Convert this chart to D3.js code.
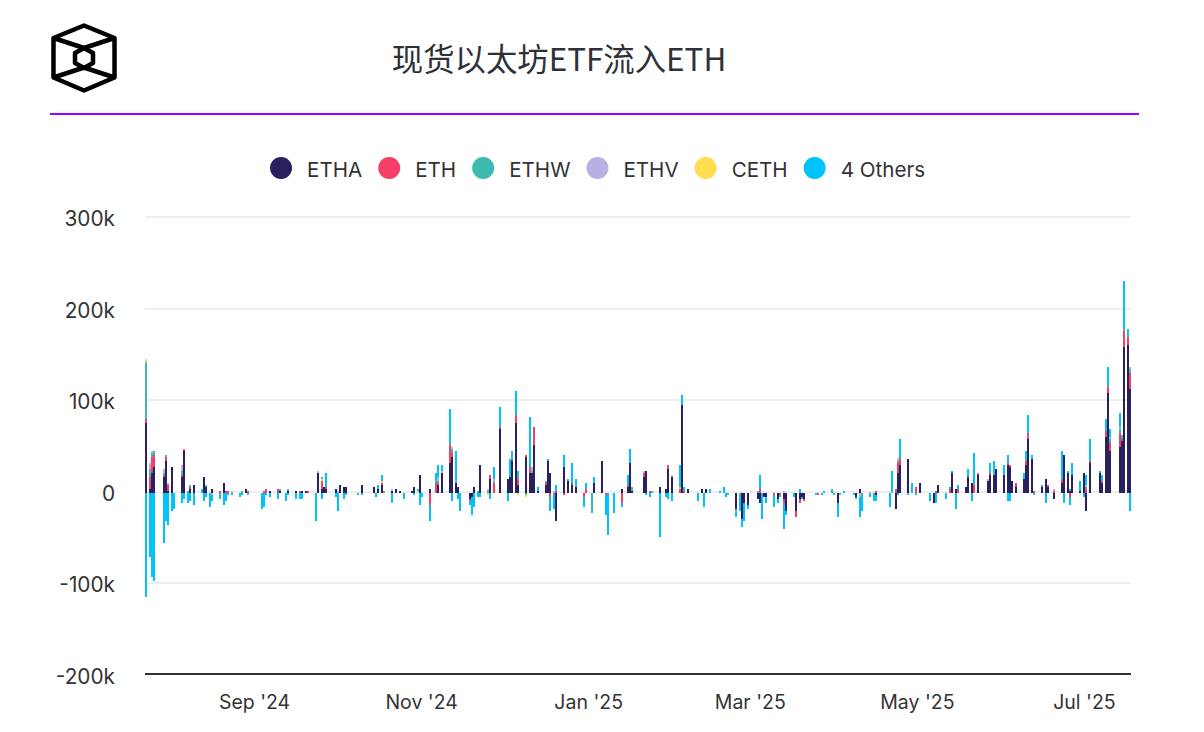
<!DOCTYPE html>
<html>
<head>
<meta charset="utf-8">
<script src="https://cdn.jsdelivr.net/npm/d3@7"></script>
<style>
  body { margin: 0; background: #fff; }
  text { font-family: Inter, sans-serif; fill: #333; }
</style>
</head>
<body>
<div id="chart"></div>
<script>
// thousand ETH per column, [column, value]. the source chart has 493 columns, weekends stay empty
const columnCount = 493;
const yTicks = [-200, -100, 0, 100, 200, 300];
const xTicks = ["2024-09-01", "2024-11-01", "2025-01-01", "2025-03-01", "2025-05-01", "2025-07-01"];
const dateRange = ["2024-07-23", "2025-07-18"];
const legendNames = ["ETHA", "ETH", "ETHW", "ETHV", "CETH", "4 Others"];
const legendColors = ["#2a205e", "#f43f66", "#3cbcb1", "#b8b0e2", "#ffdd4f", "#00c4f9"];

const etha = [[0,76.4],[2,4.4],[3,21.8],[4,28.4],[9,17.5],[10,34.9],[11,2.2],[13,28.4],[18,17.5],[19,45.8],[22,4.4],[24,8.7],[29,17.5],[30,6.5],[33,4.4],[39,10.9],[50,4.4],[62,2.2],[67,2.2],[71,2.2],[75,2.2],[78,2.2],[80,2.2],[86,21.8],[88,4.4],[89,6.5],[90,4.4],[95,4.4],[97,8.7],[99,6.5],[100,6.5],[108,8.7],[114,6.5],[116,4.4],[118,8.7],[123,2.2],[125,4.4],[127,2.2],[133,2.2],[134,6.5],[137,19.6],[142,4.4],[146,8.7],[148,21.8],[152,32.7],[153,39.3],[155,10.9],[156,6.5],[162,-6.5],[163,-4.4],[164,6.5],[167,30.6],[172,15.3],[177,69.8],[181,15.3],[182,17.5],[183,34.9],[185,76.4],[186,8.7],[190,39.3],[192,21.8],[193,21.8],[194,52.4],[196,2.2],[200,8.7],[201,34.9],[202,21.8],[205,-30.6],[209,28.4],[211,13.1],[213,8.7],[215,6.5],[224,10.9],[228,34.9],[238,4.4],[241,6.5],[242,32.7],[243,2.2],[249,17.5],[250,24],[257,6.5],[260,4.4],[261,26.2],[263,17.5],[268,96],[271,4.4],[278,4.4],[280,4.4],[295,-17.5],[298,-28.4],[299,-10.9],[301,-13.1],[306,-6.5],[307,-10.9],[309,-4.4],[310,-4.4],[316,-6.5],[319,-6.5],[320,-19.6],[325,-19.6],[327,-6.5],[328,-4.4],[329,-6.5],[346,-10.9],[355,-4.4],[357,4.4],[365,-2.2],[375,-17.5],[376,21.8],[377,30.6],[381,37.1],[387,10.9],[394,-10.9],[396,8.7],[403,21.8],[405,4.4],[410,6.5],[411,17.5],[413,10.9],[416,19.6],[421,13.1],[422,19.6],[424,19.6],[425,26.2],[429,19.6],[431,30.6],[432,28.4],[433,13.1],[435,6.5],[439,15.3],[440,30.6],[441,58.9],[443,37.1],[448,6.5],[450,15.3],[451,6.5],[454,-6.5],[458,10.9],[459,41.5],[461,21.8],[462,2.2],[463,19.6],[467,2.2],[469,21.8],[470,-19.6],[472,32.7],[477,21.8],[478,10.9],[480,61.1],[481,109.2],[482,45.8],[487,50.2],[488,56.8],[489,159.4],[491,161.6],[492,113.5]];
const eth = [[0,4.4],[2,13.1],[3,17.5],[4,13.1],[9,2.2],[10,4.4],[11,6.5],[18,2.2],[19,2.2],[22,2.2],[37,2.2],[40,2.2],[41,2.2],[51,2.2],[59,2.2],[60,4.4],[66,4.4],[77,2.2],[81,2.2],[88,8.7],[90,2.2],[118,2.2],[142,-13.1],[145,10.9],[146,2.2],[152,19.6],[153,4.4],[162,-2.2],[172,4.4],[174,10.9],[177,2.2],[183,2.2],[185,8.7],[186,6.5],[190,2.2],[192,6.5],[194,19.6],[200,2.2],[202,-4.4],[205,2.2],[209,-2.2],[213,2.2],[219,-4.4],[220,4.4],[230,-2.2],[238,-10.9],[241,2.2],[249,4.4],[252,2.2],[261,4.4],[267,4.4],[269,2.2],[307,4.4],[314,-2.2],[317,-2.2],[319,-4.4],[325,-6.5],[327,-4.4],[329,-2.2],[336,-2.2],[365,2.2],[375,4.4],[376,10.9],[377,6.5],[385,6.5],[395,2.2],[402,4.4],[406,4.4],[414,8.7],[416,2.2],[422,2.2],[431,2.2],[432,2.2],[435,4.4],[440,4.4],[441,6.5],[444,2.2],[451,2.2],[454,2.2],[458,4.4],[462,-4.4],[470,4.4],[472,2.2],[478,2.2],[480,6.5],[481,6.5],[482,8.7],[487,15.3],[488,2.2],[489,17.5],[491,8.7],[492,17.5]];
const ethw = [[0,61.1],[2,8.7],[3,4.4],[4,4.4],[9,2.2],[10,2.2],[18,4.4],[21,2.2],[22,2.2],[30,2.2],[48,2.2],[71,2.2],[106,-2.2],[108,-2.2],[119,2.2],[145,2.2],[146,2.2],[152,4.4],[153,4.4],[155,4.4],[166,2.2],[171,2.2],[174,2.2],[186,4.4],[190,-2.2],[193,2.2],[200,2.2],[211,2.2],[223,-21.8],[243,4.4],[253,2.2],[291,-2.2],[295,-4.4],[297,-4.4],[306,2.2],[344,-2.2],[347,-2.2],[358,-4.4],[373,2.2],[376,2.2],[381,-2.2],[414,2.2],[424,2.2],[440,2.2],[461,2.2],[462,2.2],[470,2.2],[481,2.2],[482,4.4],[487,4.4],[489,4.4],[492,4.4]];
const ethv = [[0,2.2],[2,6.5],[3,2.2],[9,4.4],[11,2.2],[18,6.5],[33,-2.2],[43,2.2],[86,2.2],[96,2.2],[123,2.2],[146,4.4],[148,2.2],[153,2.2],[171,2.2],[174,2.2],[193,4.4],[204,2.2],[249,2.2],[263,2.2],[319,2.2],[357,-4.4],[376,2.2],[421,2.2],[454,2.2],[470,2.2],[482,2.2],[487,2.2],[492,2.2]];
const ceth = [[0,2.2],[88,2.2],[118,2.2],[136,2.2],[171,-2.2],[186,-2.2],[190,-2.2],[267,2.2],[344,2.2],[362,2.2],[376,2.2]];
// 4 Others is several funds in one colour, so a column can have both inflow and outflow
const othersIn = [[28,4.4],[67,2.2],[88,2.2],[90,15.3],[116,4.4],[118,6.5],[136,2.2],[145,8.7],[146,13.1],[148,6.5],[152,34.9],[155,30.6],[174,13.1],[177,21.8],[182,19.6],[183,8.7],[185,26.2],[186,4.4],[192,54.6],[196,4.4],[201,2.2],[205,6.5],[209,13.1],[213,21.8],[215,8.7],[220,6.5],[224,6.5],[241,10.9],[242,15.3],[267,24],[268,10.9],[269,4.4],[282,4.4],[287,2.2],[289,6.5],[307,15.3],[327,4.4],[339,2.2],[343,4.4],[349,2.2],[373,21.8],[377,21.8],[383,10.9],[402,2.2],[403,2.2],[406,4.4],[411,8.7],[414,32.7],[422,10.9],[424,13.1],[429,10.9],[431,8.7],[439,6.5],[440,8.7],[441,19.6],[443,4.4],[448,2.2],[458,30.6],[463,13.1],[467,10.9],[470,10.9],[472,24],[477,2.2],[478,6.5],[480,13.1],[481,19.6],[482,8.7],[487,15.3],[488,4.4],[489,50.2],[491,8.7]];
const othersOut = [[0,-113.5],[2,-69.8],[3,-91.7],[4,-96],[9,-54.6],[10,-30.6],[11,-34.9],[13,-19.6],[14,-17.5],[18,-10.9],[19,-6.5],[21,-10.9],[22,-8.7],[24,-13.1],[29,-8.7],[30,-4.4],[32,-15.3],[33,-6.5],[37,-6.5],[39,-13.1],[40,-8.7],[41,-2.2],[43,-2.2],[47,-4.4],[48,-2.2],[51,-2.2],[58,-17.5],[59,-15.3],[60,-2.2],[62,-4.4],[66,-6.5],[70,-8.7],[71,-2.2],[75,-6.5],[77,-6.5],[78,-6.5],[85,-30.6],[88,-6.5],[95,-4.4],[96,-19.6],[99,-6.5],[100,-2.2],[115,-4.4],[123,-10.9],[129,-6.5],[134,-2.2],[137,-13.1],[138,-4.4],[142,-17.5],[153,-8.7],[156,-6.5],[157,-19.6],[162,-4.4],[163,-19.6],[164,-15.3],[166,-4.4],[167,-4.4],[172,-6.5],[181,-8.7],[202,-15.3],[204,-17.5],[219,-10.9],[230,-21.8],[231,-45.8],[234,-21.8],[238,-4.4],[250,-2.2],[252,-4.4],[257,-48],[260,-4.4],[261,-6.5],[263,-8.7],[276,-8.7],[279,-15.3],[290,-4.4],[295,-4.4],[297,-15.3],[298,-8.7],[299,-19.6],[301,-4.4],[308,-28.4],[310,-6.5],[314,-13.1],[316,-4.4],[317,-2.2],[319,-28.4],[320,-4.4],[324,-4.4],[328,-2.2],[335,-2.2],[338,-2.2],[346,-15.3],[354,-2.2],[355,-2.2],[357,-21.8],[358,-15.3],[362,-4.4],[364,-8.7],[365,-6.5],[372,-15.3],[376,-2.2],[385,-2.2],[392,-8.7],[395,-10.9],[400,-6.5],[405,-17.5],[413,-8.7],[431,-8.7],[432,-8.7],[444,-2.2],[450,-10.9],[459,-10.9],[462,-8.7],[469,-4.4],[492,-19.6]];

var width = 1204, height = 732;
var plot = { left: 145, right: 1131, top: 217, bottom: 675 };

var svg = d3.select("#chart").append("svg")
  .attr("width", width)
  .attr("height", height)
  .style("display", "block");

// header
var logo = svg.append("g")
  .attr("fill", "none")
  .attr("stroke", "#000")
  .attr("stroke-width", 4.5)
  .attr("stroke-linejoin", "round");
logo.append("path").attr("d", "M84 25.5L114.5 38V77.5L84 90.5L53.5 77.5V38Z");
logo.append("path").attr("d", "M53.5 38L84 48L114.5 38M53.5 77.5L84 67.5L114.5 77.5");
logo.append("path").attr("d", "M84 48L93 53V63L84 68L75 63V53Z");

svg.append("text")
  .attr("x", 559)
  .attr("y", 70.5)
  .attr("text-anchor", "middle")
  .style("font-family", "'Noto Sans CJK SC'")
  .style("font-size", "31.4px")
  .style("fill", "#2e3238")
  .text("现货以太坊ETF流入ETH");

svg.append("line")
  .attr("x1", 50).attr("x2", 1139)
  .attr("y1", 114).attr("y2", 114)
  .attr("stroke", "#a100ff")
  .attr("stroke-width", 2);

// legend, flows from the left like the original
var legendX = 270;
legendNames.forEach(function (name, i) {
  svg.append("circle")
    .attr("cx", legendX + 11)
    .attr("cy", 168)
    .attr("r", 11)
    .attr("fill", legendColors[i]);
  var label = svg.append("text")
    .attr("x", legendX + 37)
    .attr("y", 177)
    .style("font-size", "20.6px")
    .text(name);
  legendX += 37 + label.node().getComputedTextLength() + 16;
});

// scales, y rounds to whole pixels so the stacked segments stay crisp
var y = d3.scaleLinear()
  .domain([-200, 300])
  .range([plot.bottom, plot.top])
  .interpolate(d3.interpolateRound);
var xBand = d3.scaleBand().domain(d3.range(columnCount)).range([plot.left, plot.right]);
var xTime = d3.scaleTime()
  .domain(dateRange.map(function (d) { return new Date(d + "T00:00:00"); }))
  .range([plot.left, plot.right]);

// y axis carries the gridlines
var yAxis = svg.append("g")
  .attr("transform", "translate(" + plot.left + ",0)")
  .call(d3.axisLeft(y)
    .tickValues(yTicks)
    .tickSize(-(plot.right - plot.left))
    .tickPadding(30)
    .offset(0)
    .tickFormat(function (d) { return d === 0 ? "0" : d + "k"; }));
yAxis.select(".domain").remove();
yAxis.selectAll("line").attr("stroke", "#eeeeee").attr("stroke-width", 2);
yAxis.selectAll("text")
  .attr("dy", "0.42em")
  .style("font-size", "20.8px")
  .style("font-family", "Inter, sans-serif");
yAxis.selectAll(".tick")
  .filter(function (d) { return d === -200; })
  .select("line").remove();

// stacked bars
var keys = ["etha", "eth", "ethw", "ethv", "ceth", "othersIn", "othersOut"];
var keyColors = legendColors.concat(legendColors[5]);
var lists = [etha, eth, ethw, ethv, ceth, othersIn, othersOut];
var rows = d3.range(columnCount).map(function (c) { return { column: c }; });
keys.forEach(function (k, i) {
  rows.forEach(function (r) { r[k] = 0; });
  lists[i].forEach(function (p) { rows[p[0]][k] = p[1]; });
});
var stacked = d3.stack().keys(keys).offset(d3.stackOffsetDiverging)(rows);

svg.append("g")
  .attr("transform", "translate(0,1)")
  .selectAll("g").data(stacked).enter()
  .append("g")
  .attr("fill", function (s, i) { return keyColors[i]; })
  .selectAll("rect")
  .data(function (s) { return s.filter(function (d) { return d[1] !== d[0]; }); })
  .enter().append("rect")
  .attr("x", function (d) { return xBand(d.data.column); })
  .attr("width", xBand.bandwidth())
  .attr("y", function (d) { return y(Math.max(d[0], d[1])); })
  .attr("height", function (d) { return y(Math.min(d[0], d[1])) - y(Math.max(d[0], d[1])); });

// x axis, the dark line sits one pixel above the -200k position
var xAxis = svg.append("g")
  .attr("transform", "translate(0," + (plot.bottom - 1) + ")")
  .call(d3.axisBottom(xTime)
    .tickValues(xTicks.map(function (d) { return new Date(d + "T00:00:00"); }))
    .tickSize(0)
    .tickPadding(21)
    .offset(0)
    .tickFormat(d3.timeFormat("%b '%y")));
xAxis.select(".domain").attr("stroke", "#333").attr("stroke-width", 2);
xAxis.selectAll("text")
  .style("font-size", "19.5px")
  .style("font-family", "Inter, sans-serif");
</script>
</body>
</html>
